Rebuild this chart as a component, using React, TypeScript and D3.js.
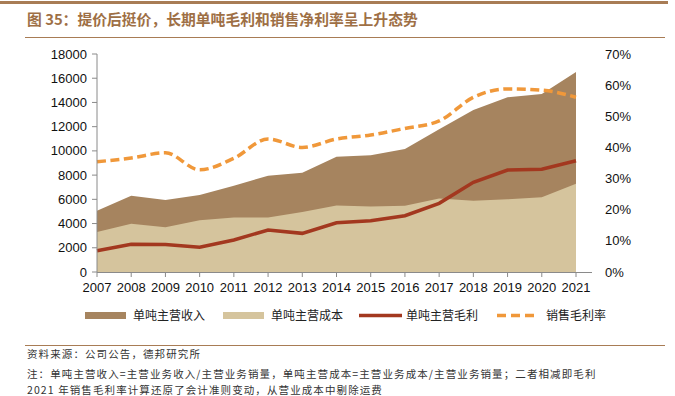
import React from 'react';
import * as d3 from 'd3';

const years = ['2007', '2008', '2009', '2010', '2011', '2012', '2013', '2014', '2015', '2016', '2017', '2018', '2019', '2020', '2021'];
// 单吨主营收入
const revenue = [5060, 6300, 5950, 6350, 7120, 7950, 8200, 9520, 9630, 10150, 11780, 13380, 14420, 14700, 16510];
// 单吨主营成本
const cost = [3300, 3990, 3690, 4270, 4510, 4510, 4950, 5500, 5400, 5480, 6060, 5890, 6000, 6170, 7290];
// 单吨主营毛利
const profit = [1760, 2290, 2280, 2040, 2640, 3470, 3190, 4070, 4240, 4650, 5670, 7400, 8420, 8480, 9190];
// 销售毛利率
const margin = [0.354, 0.366, 0.383, 0.328, 0.365, 0.427, 0.400, 0.427, 0.440, 0.461, 0.485, 0.561, 0.588, 0.584, 0.561];

const leftTicks = [0, 2000, 4000, 6000, 8000, 10000, 12000, 14000, 16000, 18000];
const rightTicks = [0, 0.1, 0.2, 0.3, 0.4, 0.5, 0.6, 0.7];

const legendItems = [
  { label: '单吨主营收入', kind: 'rect', color: '#A6845F' },
  { label: '单吨主营成本', kind: 'rect', color: '#D5C49D' },
  { label: '单吨主营毛利', kind: 'line', color: '#A3381F' },
  { label: '销售毛利率', kind: 'dash', color: '#F0983A' },
];

const W = 675;
const H = 396;
const cjk = '"Noto Sans CJK SC", "Noto Sans", sans-serif';
const num = '"Liberation Sans", Arial, sans-serif';

export default function App() {
  const x = d3.scalePoint<string>().domain(years).range([97, 576]);
  const yL = d3.scaleLinear().domain([0, 18000]).range([272, 54]);
  const yR = d3.scaleLinear().domain([0, 0.7]).range([272, 54]);

  const area = d3.area<number>()
    .x((_, i) => x(years[i])!)
    .y0(yL(0))
    .y1(d => yL(d));
  const profitLine = d3.line<number>()
    .x((_, i) => x(years[i])!)
    .y(d => yL(d));
  const marginLine = d3.line<number>()
    .x((_, i) => x(years[i])!)
    .y(d => yR(d))
    .curve(d3.curveMonotoneX);

  const legendX = [85, 223, 359, 497];

  return (
    <svg width={W} height={H} style={{ display: 'block', position: 'absolute', left: 0, top: 0, background: '#fff' }}>
      <style>{'body{margin:0}'}</style>
      {/* header */}
      <rect x={0} y={1} width={668} height={3} fill="#A87C55" />
      <text x={27} y={25} fontFamily={cjk} fontSize={14.8} fontWeight="bold" fill="#9E6F45">
        图 35：提价后挺价，长期单吨毛利和销售净利率呈上升态势
      </text>
      <line x1={25} x2={665} y1={37.5} y2={37.5} stroke="#A87C55" strokeWidth={1} />

      {/* areas */}
      <path d={area(revenue)!} fill="#A6845F" />
      <path d={area(cost)!} fill="#D5C49D" />
      <path d={profitLine(profit)!} fill="none" stroke="#A3381F" strokeWidth={3.5} />
      <path d={marginLine(margin)!} fill="none" stroke="#F0983A" strokeWidth={3.5} strokeDasharray="9 4.5" />

      {/* left axis */}
      <line x1={97} x2={97} y1={54} y2={272} stroke="#8a8a8a" />
      {leftTicks.map(t => (
        <g key={t}>
          <line x1={92} x2={97} y1={yL(t)} y2={yL(t)} stroke="#8a8a8a" />
          <text x={87} y={yL(t)} dy="0.35em" textAnchor="end" fontFamily={num} fontSize={13} fill="#111">{t}</text>
        </g>
      ))}
      {/* bottom axis */}
      <line x1={97} x2={592} y1={272.5} y2={272.5} stroke="#8a8a8a" />
      {years.map(yr => (
        <g key={yr}>
          <line x1={x(yr)} x2={x(yr)} y1={272} y2={277} stroke="#8a8a8a" />
          <text x={x(yr)} y={292} textAnchor="middle" fontFamily={num} fontSize={13} fill="#111">{yr}</text>
        </g>
      ))}
      {/* right axis labels */}
      {rightTicks.map(t => (
        <text key={t} x={605} y={yR(t)} dy="0.35em" fontFamily={num} fontSize={13} fill="#111">
          {`${Math.round(t * 100)}%`}
        </text>
      ))}

      {/* legend */}
      {legendItems.map((it, i) => {
        const lx = legendX[i];
        return (
          <g key={it.label}>
            {it.kind === 'rect' && <rect x={lx} y={312} width={41} height={7} fill={it.color} />}
            {it.kind === 'line' && <line x1={lx} x2={lx + 43} y1={315.5} y2={315.5} stroke={it.color} strokeWidth={3.5} />}
            {it.kind === 'dash' && <line x1={lx} x2={lx + 38} y1={315.5} y2={315.5} stroke={it.color} strokeWidth={3.5} strokeDasharray="9 5" />}
            <text x={lx + (it.kind === 'rect' ? 48 : it.kind === 'line' ? 47 : 49)} y={320} fontFamily={cjk} fontSize={12} fill="#222">{it.label}</text>
          </g>
        );
      })}

      {/* footer */}
      <line x1={25} x2={665} y1={345.5} y2={345.5} stroke="#A87C55" strokeWidth={1.2} />
      <g fontFamily={cjk} fontSize={10.5} fill="#333" letterSpacing={1.1}>
        <text x={27} y={358}>资料来源：公司公告，德邦研究所</text>
        <text x={27} y={378}>注：单吨主营收入=主营业务收入/主营业务销量，单吨主营成本=主营业务成本/主营业务销量；二者相减即毛利</text>
        <text x={27} y={393.5}>2021 年销售毛利率计算还原了会计准则变动，从营业成本中剔除运费</text>
      </g>
    </svg>
  );
}
